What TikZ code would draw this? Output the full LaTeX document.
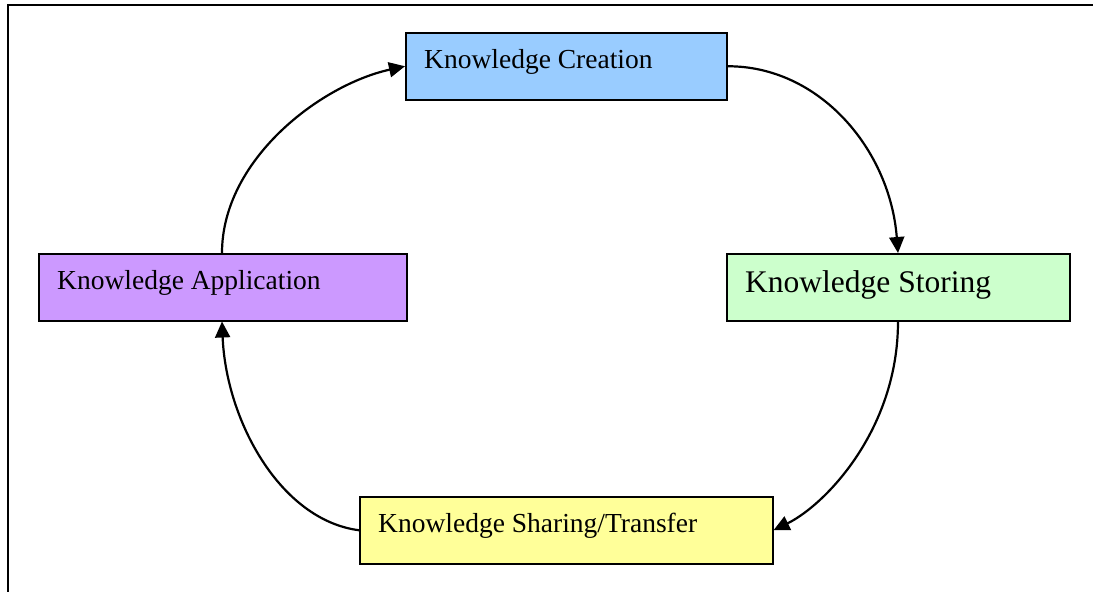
\documentclass[tikz,border=0pt]{standalone}
\usepackage{fontspec}
\setmainfont{Liberation Serif}
\usetikzlibrary{arrows.meta}
\definecolor{createfill}{HTML}{99CCFF}
\definecolor{storefill}{HTML}{CCFFCC}
\definecolor{sharefill}{HTML}{FFFF99}
\definecolor{applyfill}{HTML}{CC99FF}
\begin{document}
\begin{tikzpicture}[x=1pt,y=-1pt,
  stagebox/.style={draw=black,line width=1.5pt,anchor=north west,inner sep=0pt},
  stagetext/.style={anchor=base west,inner sep=0pt,font=\fontsize{27.5}{33}\selectfont},
  cycle/.style={line width=2.2pt,-{Triangle[length=16pt,width=15pt]}}]
\useasboundingbox (0,0) rectangle (1093,592);
% open frame: top and left edges only
\draw[line width=2pt] (8.3,592) -- (8.3,5) -- (1093,5);

% stage boxes
\node[stagebox,fill=createfill,minimum width=321pt,minimum height=67pt] (create) at (405,32) {};
\node[stagebox,fill=storefill,minimum width=343pt,minimum height=67pt] (store) at (726,253) {};
\node[stagebox,fill=applyfill,minimum width=368pt,minimum height=67pt] (apply) at (38,253) {};
\node[stagebox,fill=sharefill,minimum width=413pt,minimum height=67pt] (share) at (359,496) {};

% stage labels
\node[stagetext] (createlabel) at (424,68) {Knowledge Creation};
\node[stagetext,font=\fontsize{31.5}{38}\selectfont] (storelabel) at (745,292) {Knowledge Storing};
\node[stagetext] (applylabel) at (57,289) {Knowledge Application};
\node[stagetext] (sharelabel) at (378,532) {Knowledge Sharing/Transfer};

% cycle connectors
\draw[cycle] (create.east) .. controls (820,66) and (890,150) .. (store.north -| 898,0);
\draw[cycle] (store.south -| 898,0) .. controls (898,430) and (825,505) .. (share.east);
\draw[cycle] (share.west) .. controls (280,520) and (226,420) .. (apply.south -| 222,0);
\draw[cycle] (apply.north -| 222,0) .. controls (222,160) and (320,85) .. (create.west);
\end{tikzpicture}
\end{document}
